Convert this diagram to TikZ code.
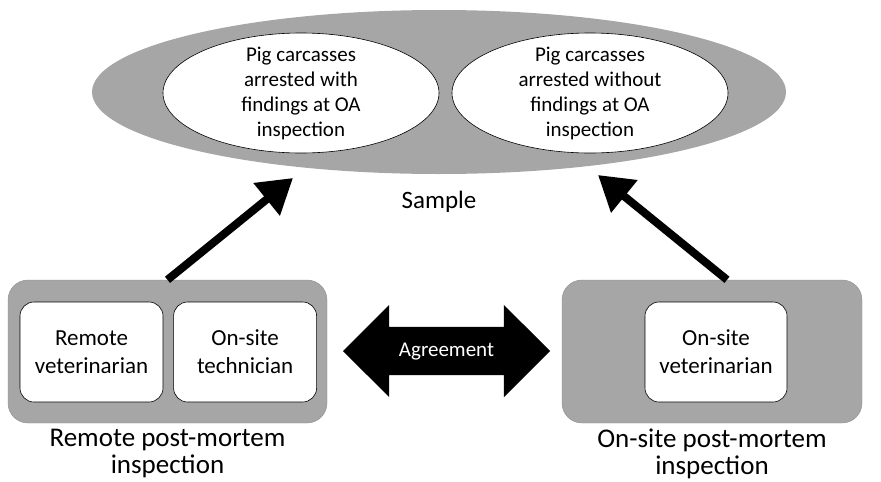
\documentclass[tikz,border=0pt]{standalone}
\usepackage{fontspec}
\setmainfont{Carlito}
\usepackage{tikz}
\usetikzlibrary{arrows.meta,positioning,shapes.geometric,shapes.arrows}
\definecolor{panelgray}{HTML}{A6A6A6}
\definecolor{paneledge}{HTML}{8E8E8E}

\begin{document}
\begin{tikzpicture}[x=1pt,y=-1pt,
   grp/.style={ellipse,draw,fill=white,line width=0.6pt,minimum width=276pt,minimum height=120pt,
               inner xsep=0pt,inner ysep=-8pt,align=center,font=\fontsize{21}{25}\selectfont},
   panel/.style={draw=paneledge,fill=panelgray,rounded corners=20pt,minimum height=143pt},
   who/.style={draw,fill=white,rounded corners=14pt,minimum width=143pt,minimum height=100pt,
               align=center,line width=0.6pt,font=\fontsize{23}{28}\selectfont},
   plabel/.style={align=center,font=\fontsize{27}{27}\selectfont},
   toarrow/.style={-{Triangle[length=34pt,width=40pt]},line width=8pt}]
  \useasboundingbox (0,0) rectangle (881,482);
  % sample
  \node[ellipse,fill=panelgray,minimum width=694pt,minimum height=164pt] (smp) at (439,92) {};
  \node[grp] (withf)    at (301,93) {Pig carcasses\\arrested with\\findings at OA\\inspection};
  \node[grp] (withoutf) at (590,93) {Pig carcasses\\arrested without\\findings at OA\\inspection};
  \node[below=13pt of smp,font=\fontsize{25}{30}\selectfont] (smplbl) {Sample};
  % the two inspections
  \node[panel,minimum width=319pt] (remote) at (167.5,351.5) {};
  \node[who] (rvet) at (91.5,352) {Remote\\veterinarian};
  \node[who,right=10pt of rvet] (otech) {On-site\\technician};
  \node[panel,minimum width=300pt] (onsite) at (712,351.5) {};
  \node[who,minimum width=142pt] (ovet) at (716,352) {On-site\\veterinarian};
  \node[plabel,below=2pt of remote] (rlbl) {Remote post-mortem\\inspection};
  \node[plabel,below=2pt of onsite] (olbl) {On-site post-mortem\\inspection};
  \node[double arrow,fill=black,text=white,minimum height=207pt,double arrow head extend=22pt,
        double arrow head indent=0pt,inner xsep=0pt,inner ysep=15pt,text height=14pt,text depth=4pt,
        font=\fontsize{21}{25}\selectfont] (agree) at (446.5,351) {Agreement};
  \coordinate (tipL) at (293,178);
  \coordinate (tipR) at (598,175);
  \draw[toarrow] (remote.north) -- (tipL);
  \draw[toarrow] ([xshift=15pt]onsite.north) -- (tipR);
\end{tikzpicture}
\end{document}
